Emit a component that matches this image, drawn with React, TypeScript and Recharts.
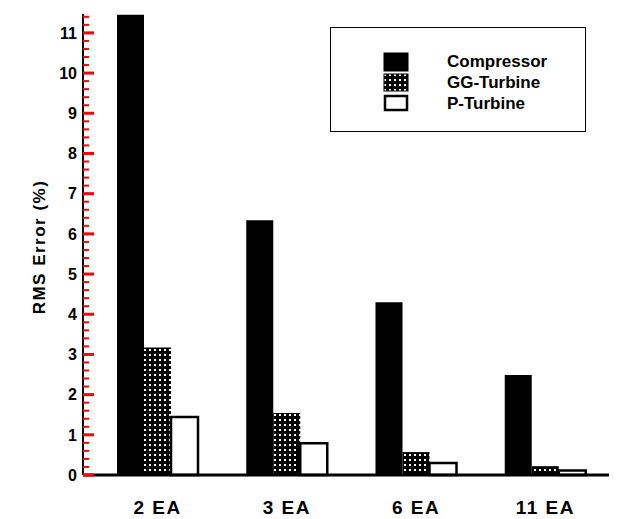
import React from 'react';
import { BarChart, Bar, XAxis, YAxis } from 'recharts';

const categories = ['2 EA', '3 EA', '6 EA', '11 EA'];
const compressor = [11.45, 6.34, 4.3, 2.49];
const ggTurbine = [3.17, 1.54, 0.57, 0.22];
const pTurbine = [1.44, 0.79, 0.3, 0.11];
const seriesNames = ['Compressor', 'GG-Turbine', 'P-Turbine'];
const majorTicks = [0, 1, 2, 3, 4, 5, 6, 7, 8, 9, 10, 11];
const minorStep = 0.2;
const yMax = 11.47;

const data = categories.map((c, i) => ({
  name: c,
  Compressor: compressor[i],
  'GG-Turbine': ggTurbine[i],
  'P-Turbine': pTurbine[i],
}));

const allTicks: number[] = [];
for (let k = 0; k * minorStep <= yMax; k++) {
  allTicks.push(Math.round(k * minorStep * 10) / 10);
}

const FONT = '"Liberation Sans", Arial, Helvetica, sans-serif';

const YTick = (props: any) => {
  const x = Number(props.x);
  const y = Number(props.y);
  const v = Number(props.payload.value);
  const isMajor = majorTicks.indexOf(v) >= 0;
  return (
    <g>
      <rect x={x} y={y - (isMajor ? 1.5 : 1)} width={isMajor ? 11 : 6} height={isMajor ? 3 : 2} fill="red" />
      {isMajor ? (
        <text x={x - 6} y={y} dy="0.36em" textAnchor="end" fontFamily={FONT} fontWeight="bold" fontSize={16} fill="#000">
          {props.payload.value}
        </text>
      ) : null}
    </g>
  );
};

const Swatch = ({ name }: { name: string }) => (
  <svg width={26} height={20} style={{ display: 'block' }}>
    {name === 'Compressor' && <rect x={1} y={1} width={24} height={18} fill="#000" stroke="#000" strokeWidth={1} />}
    {name === 'GG-Turbine' && <rect x={1} y={1} width={24} height={17} fill="url(#ggPattern)" stroke="#000" strokeWidth={1} />}
    {name === 'P-Turbine' && <rect x={2} y={2} width={22} height={14} fill="#fff" stroke="#000" strokeWidth={2.5} />}
  </svg>
);

const LegendBox = () => (
  <div
    style={{
      position: 'absolute',
      left: 322,
      top: 19,
      width: 256,
      height: 105,
      border: '1.5px solid #000',
      boxSizing: 'border-box',
      background: '#fff',
      fontFamily: FONT,
      fontWeight: 'bold',
      fontSize: 17,
      color: '#000',
    }}
  >
    {seriesNames.map((n, i) => (
      <div key={n} style={{ position: 'absolute', left: 52, top: 24 + i * 21, height: 20 }}>
        <Swatch name={n} />
        <span style={{ position: 'absolute', left: 64, top: 0, lineHeight: '20px', whiteSpace: 'nowrap' }}>{n}</span>
      </div>
    ))}
  </div>
);

export default function App() {
  return (
    <div style={{ width: 609, height: 511, position: 'relative' }}>
      <svg width={0} height={0} style={{ position: 'absolute', left: 0, top: 0 }}>
        <defs>
          <pattern id="ggPattern" width={5} height={5} patternUnits="userSpaceOnUse">
            <rect width={5} height={5} fill="#000" />
            <rect x={1} y={1} width={2} height={2} fill="#fff" />
          </pattern>
        </defs>
      </svg>
      <BarChart
        width={609}
        height={511}
        data={data}
        margin={{ top: 6, right: 0, bottom: 8, left: 0 }}
        barGap={0}
        barSize={27}
      >
        <XAxis
          dataKey="name"
          height={36}
          padding={{ left: 10, right: 7 }}
          tickLine={false}
          axisLine={{ stroke: '#000', strokeWidth: 3 }}
          tickMargin={20}
          tick={{ fill: '#000', fontSize: 19, fontWeight: 'bold', fontFamily: FONT, letterSpacing: 1.5 }}
          interval={0}
        />
        <YAxis
          width={75}
          domain={[0, yMax]}
          ticks={allTicks}
          interval={0}
          tickSize={0}
          tickMargin={0}
          tickLine={false}
          axisLine={{ stroke: '#000', strokeWidth: 2 }}
          tick={YTick}
        />
        <Bar dataKey="Compressor" fill="#000" isAnimationActive={false} />
        <Bar dataKey="GG-Turbine" fill="url(#ggPattern)" isAnimationActive={false} />
        <Bar dataKey="P-Turbine" fill="#fff" stroke="#000" strokeWidth={2.5} isAnimationActive={false} />
      </BarChart>
      <div
        style={{
          position: 'absolute',
          left: 32,
          top: 239,
          transform: 'translate(-50%, -50%) rotate(-90deg)',
          whiteSpace: 'nowrap',
          fontFamily: FONT,
          fontWeight: 'bold',
          fontSize: 17,
          letterSpacing: 1.5,
          color: '#000',
          lineHeight: '20px',
        }}
      >
        RMS Error (%)
      </div>
      <LegendBox />
    </div>
  );
}
